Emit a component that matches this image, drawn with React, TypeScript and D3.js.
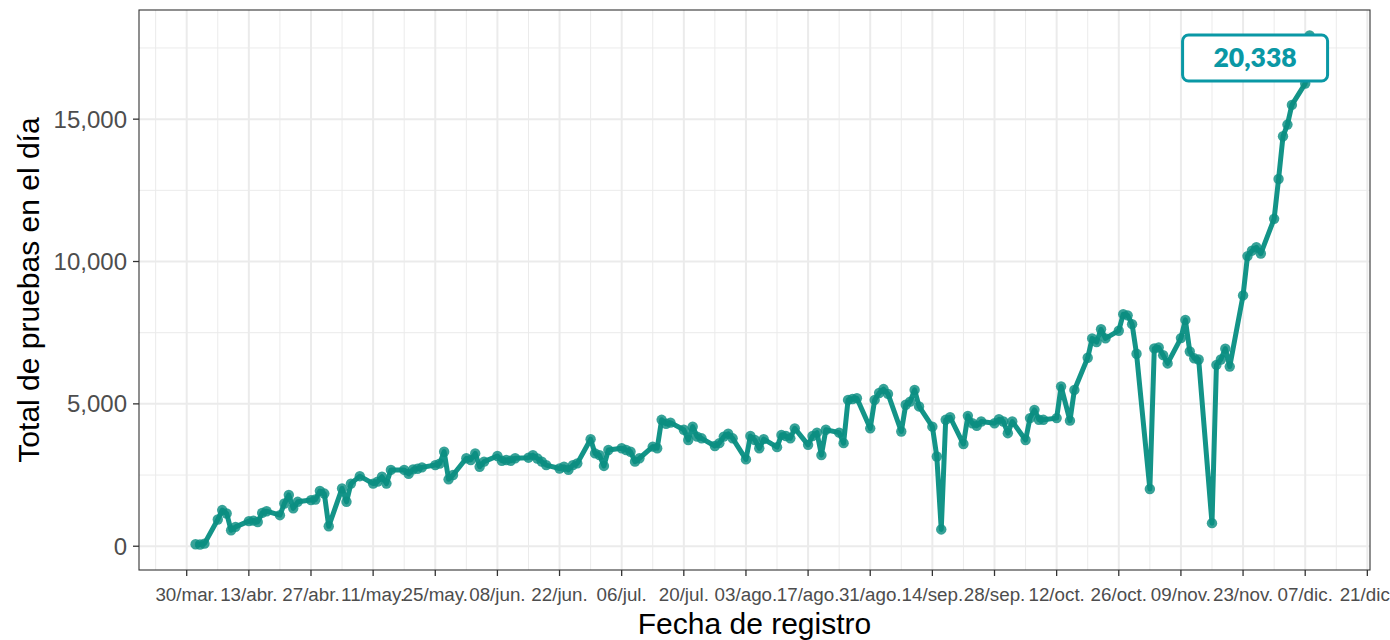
import React from "react";
import * as d3 from "d3";

// ---- data ----
const dates: string[] = [
  "2020-04-01","2020-04-02","2020-04-03","2020-04-06","2020-04-07","2020-04-08","2020-04-09","2020-04-10",
  "2020-04-13","2020-04-14","2020-04-15","2020-04-16","2020-04-17","2020-04-20","2020-04-21","2020-04-22",
  "2020-04-23","2020-04-24","2020-04-27","2020-04-28","2020-04-29","2020-04-30","2020-05-01","2020-05-04",
  "2020-05-05","2020-05-06","2020-05-08","2020-05-11","2020-05-12","2020-05-13","2020-05-14","2020-05-15",
  "2020-05-18","2020-05-19","2020-05-20","2020-05-21","2020-05-22","2020-05-25","2020-05-26","2020-05-27",
  "2020-05-28","2020-05-29","2020-06-01","2020-06-02","2020-06-03","2020-06-04","2020-06-05","2020-06-08",
  "2020-06-09","2020-06-10","2020-06-11","2020-06-12","2020-06-15","2020-06-16","2020-06-17","2020-06-18",
  "2020-06-19","2020-06-22","2020-06-23","2020-06-24","2020-06-25","2020-06-26","2020-06-29","2020-06-30",
  "2020-07-01","2020-07-02","2020-07-03","2020-07-06","2020-07-07","2020-07-08","2020-07-09","2020-07-10",
  "2020-07-13","2020-07-14","2020-07-15","2020-07-16","2020-07-17","2020-07-20","2020-07-21","2020-07-22",
  "2020-07-23","2020-07-24","2020-07-27","2020-07-28","2020-07-29","2020-07-30","2020-07-31","2020-08-03",
  "2020-08-04","2020-08-05","2020-08-06","2020-08-07","2020-08-10","2020-08-11","2020-08-12","2020-08-13",
  "2020-08-14","2020-08-17","2020-08-18","2020-08-19","2020-08-20","2020-08-21","2020-08-24","2020-08-25",
  "2020-08-26","2020-08-27","2020-08-28","2020-08-31","2020-09-01","2020-09-02","2020-09-03","2020-09-04",
  "2020-09-07","2020-09-08","2020-09-09","2020-09-10","2020-09-11","2020-09-14","2020-09-15","2020-09-16",
  "2020-09-17","2020-09-18","2020-09-21","2020-09-22","2020-09-23","2020-09-24","2020-09-25","2020-09-28",
  "2020-09-29","2020-09-30","2020-10-01","2020-10-02","2020-10-05","2020-10-06","2020-10-07","2020-10-08",
  "2020-10-09","2020-10-12","2020-10-13","2020-10-15","2020-10-16","2020-10-19","2020-10-20","2020-10-21",
  "2020-10-22","2020-10-23","2020-10-26","2020-10-27","2020-10-28","2020-10-29","2020-10-30","2020-11-02",
  "2020-11-03","2020-11-04","2020-11-05","2020-11-06","2020-11-09","2020-11-10","2020-11-11","2020-11-12",
  "2020-11-13","2020-11-16","2020-11-17","2020-11-18","2020-11-19","2020-11-20","2020-11-23","2020-11-24",
  "2020-11-25","2020-11-26","2020-11-27","2020-11-30","2020-12-01","2020-12-02","2020-12-03","2020-12-04",
  "2020-12-07","2020-12-08",
];

const tests: number[] = [
  70, 59, 90, 940, 1270, 1150, 560, 680,
  880, 900, 850, 1170, 1230, 1090, 1500, 1800,
  1330, 1560, 1620, 1640, 1940, 1850, 700, 2030,
  1560, 2200, 2460, 2200, 2270, 2440, 2200, 2680,
  2680, 2540, 2700, 2720, 2770, 2850, 2900, 3320,
  2350, 2500, 3090, 3030, 3260, 2790, 2970, 3170,
  3000, 3030, 3000, 3090, 3110, 3200, 3080, 2970,
  2850, 2730, 2790, 2680, 2850, 2910, 3760, 3260,
  3200, 2820, 3380, 3440, 3380, 3320, 2970, 3090,
  3500, 3440, 4440, 4300, 4340, 4090, 3730, 4200,
  3850, 3790, 3520, 3620, 3850, 3950, 3790, 3050,
  3870, 3730, 3440, 3760, 3480, 3910, 3870, 3790,
  4140, 3560, 3870, 3990, 3200, 4090, 3990, 3620,
  5140, 5170, 5200, 4140, 5140, 5380, 5520, 5350,
  4030, 4970, 5080, 5490, 4910, 4200, 3150, 590,
  4440, 4530, 3590, 4580, 4320, 4230, 4380, 4320,
  4460, 4380, 3970, 4380, 3730, 4500, 4790, 4440,
  4440, 4500, 5610, 4410, 5490, 6620, 7300, 7170,
  7620, 7300, 7570, 8150, 8110, 7800, 6760, 2010,
  6950, 6980, 6710, 6420, 7310, 7950, 6840, 6600,
  6560, 810, 6370, 6560, 6940, 6310, 8810, 10190,
  10380, 10500, 10280, 11500, 12900, 14400, 14810, 15500,
  16250, 17940,
];

const xTickDates: string[] = [
  "2020-03-30","2020-04-13","2020-04-27","2020-05-11","2020-05-25","2020-06-08","2020-06-22",
  "2020-07-06","2020-07-20","2020-08-03","2020-08-17","2020-08-31","2020-09-14","2020-09-28",
  "2020-10-12","2020-10-26","2020-11-09","2020-11-23","2020-12-07","2020-12-21",
];
const xTickLabels: string[] = [
  "30/mar.","13/abr.","27/abr.","11/may.","25/may.","08/jun.","22/jun.",
  "06/jul.","20/jul.","03/ago.","17/ago.","31/ago.","14/sep.","28/sep.",
  "12/oct.","26/oct.","09/nov.","23/nov.","07/dic.","21/dic.",
];
const yTicks: number[] = [0, 5000, 10000, 15000];
const yMinorTicks: number[] = [2500, 7500, 12500, 17500];

const labelText = "20,338";
const labelDate = "2020-11-25T17:00:00";
const labelValue = 17150;

const xTitle = "Fecha de registro";
const yTitle = "Total de pruebas en el día";

// ---- layout ----
const W = 1390;
const H = 640;
const P = { left: 139, right: 1370, top: 10, bottom: 570 };
const FONT = "'Liberation Sans', Arial, Helvetica, sans-serif";
const LINE = "#139488";
const POINT = "#0b8e81";
const LABEL_COL = "#0a98a5";
const GRID = "#ebebeb";
const DARK = "#333333";
const TICKTXT = "#4d4d4d";

const parse = (s: string) => new Date(s + (s.length === 10 ? "T00:00:00" : ""));
const DAY = 86400000;

export default function App() {
  const data = dates.map((d, i) => ({ date: parse(d), value: tests[i] }));
  const base = parse("2020-03-30").getTime();
  const x = d3
    .scaleTime()
    .domain([new Date(base - 10.75 * DAY), new Date(base + 266.6 * DAY)])
    .range([P.left, P.right]);
  const [vmin, vmax] = d3.extent(tests) as [number, number];
  const pad = (vmax - vmin) * 0.05;
  const y = d3.scaleLinear().domain([vmin - pad, vmax + pad]).range([P.bottom, P.top]);

  const tickDates = xTickDates.map(parse);
  const minorDates = tickDates.slice(0, -1).map((d) => new Date(d.getTime() + 7 * DAY));
  minorDates.unshift(new Date(tickDates[0].getTime() - 7 * DAY));

  const line = d3
    .line<{ date: Date; value: number }>()
    .x((d) => x(d.date))
    .y((d) => y(d.value));

  const lx = x(parse(labelDate));
  const ly = y(labelValue);
  const boxW = 145;
  const boxH = 46;

  return (
    <svg
      width={W}
      height={H}
      style={{ position: "absolute", left: 0, top: 0, background: "#fff" }}
      fontFamily={FONT}
    >
      <rect x={0} y={0} width={W} height={H} fill="#fff" />
      <defs>
        <clipPath id="panel">
          <rect x={P.left} y={P.top} width={P.right - P.left} height={P.bottom - P.top} />
        </clipPath>
      </defs>
      <g clipPath="url(#panel)">
        {minorDates.map((d, i) => (
          <line key={"mx" + i} x1={x(d)} x2={x(d)} y1={P.top} y2={P.bottom} stroke={GRID} strokeWidth={1} />
        ))}
        {yMinorTicks.map((v, i) => (
          <line key={"my" + i} x1={P.left} x2={P.right} y1={y(v)} y2={y(v)} stroke={GRID} strokeWidth={1} />
        ))}
        {tickDates.map((d, i) => (
          <line key={"gx" + i} x1={x(d)} x2={x(d)} y1={P.top} y2={P.bottom} stroke={GRID} strokeWidth={2} />
        ))}
        {yTicks.map((v, i) => (
          <line key={"gy" + i} x1={P.left} x2={P.right} y1={y(v)} y2={y(v)} stroke={GRID} strokeWidth={2} />
        ))}
        <path d={line(data) || ""} fill="none" stroke={LINE} strokeWidth={5} strokeLinejoin="round" />
        {data.map((d, i) => (
          <circle key={"p" + i} cx={x(d.date)} cy={y(d.value)} r={5.2} fill={POINT} fillOpacity={0.82} />
        ))}
      </g>
      <rect
        x={P.left}
        y={P.top}
        width={P.right - P.left}
        height={P.bottom - P.top}
        fill="none"
        stroke={DARK}
        strokeWidth={1.1}
      />
      {/* x axis */}
      {tickDates.map((d, i) => (
        <g key={"xt" + i}>
          <line x1={x(d)} x2={x(d)} y1={P.bottom} y2={P.bottom + 6} stroke={DARK} strokeWidth={1.3} />
          <text x={x(d)} y={601} textAnchor="middle" fontSize={18.8} fill={TICKTXT}>
            {xTickLabels[i]}
          </text>
        </g>
      ))}
      {/* y axis */}
      {yTicks.map((v, i) => (
        <g key={"yt" + i}>
          <line x1={P.left - 6} x2={P.left} y1={y(v)} y2={y(v)} stroke={DARK} strokeWidth={1.3} />
          <text x={127} y={y(v) + 8.6} textAnchor="end" fontSize={24} fill={TICKTXT}>
            {d3.format(",")(v)}
          </text>
        </g>
      ))}
      <text x={(P.left + P.right) / 2} y={633.5} textAnchor="middle" fontSize={30} fill="#000">
        {xTitle}
      </text>
      <text
        transform={`translate(38.5, ${(P.top + P.bottom) / 2}) rotate(-90)`}
        textAnchor="middle"
        fontSize={30}
        fill="#000"
      >
        {yTitle}
      </text>
      {/* value label */}
      <rect
        x={lx - boxW / 2}
        y={ly - boxH / 2}
        width={boxW}
        height={boxH}
        rx={6}
        ry={6}
        fill="#fff"
        stroke={LABEL_COL}
        strokeWidth={3}
      />
      <text
        x={lx}
        y={ly + 9}
        textAnchor="middle"
        fontSize={26.5}
        fontWeight={800}
        fontFamily="Lato, 'Open Sans', sans-serif"
        fill={LABEL_COL}
      >
        {labelText}
      </text>
    </svg>
  );
}
